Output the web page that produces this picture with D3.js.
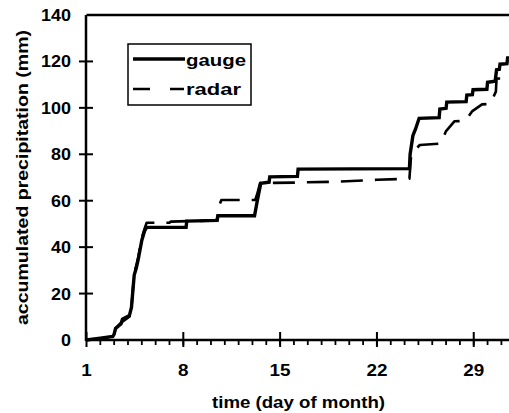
<!DOCTYPE html>
<html>
<head>
<meta charset="utf-8">
<script src="https://cdn.jsdelivr.net/npm/d3@7"></script>
<style>
  html, body { margin: 0; padding: 0; background: #fff; }
  svg { display: block; }
  text { font-family: "Liberation Sans", Arial, Helvetica, sans-serif; font-weight: bold; fill: #000; }
</style>
</head>
<body>
<script>
// Accumulated precipitation over one month, gauge vs. radar ([day of month, mm])
const gauge = [
  [1.0, 0], [2.0, 0.8], [2.9, 1.5], [3.0, 2.5], [3.1, 5], [3.5, 7], [3.6, 9], [4.1, 10.5],
  [4.25, 14], [4.45, 28], [4.6, 31], [4.75, 35], [5.0, 43], [5.2, 47], [5.35, 48.5],
  [8.2, 48.5], [8.25, 51.2], [10.45, 51.5], [10.5, 53.5], [13.15, 53.5], [13.35, 60],
  [13.6, 67.5], [14.2, 68], [14.25, 70.3], [16.25, 70.5], [16.3, 73.6], [24.35, 73.8],
  [24.4, 80], [24.6, 88], [24.8, 91], [25.05, 95.5], [26.5, 95.8], [26.55, 99.5],
  [27.0, 99.8], [27.05, 102.5], [28.45, 102.7], [28.5, 105.5], [28.9, 105.7],
  [28.95, 107.8], [29.95, 108], [30.0, 111], [30.55, 111.5], [30.65, 116.4],
  [30.85, 116.6], [30.9, 118.8], [31.4, 119], [31.45, 121.5], [31.8, 121.6]
];
const radar = [
  [1.0, 0], [2.0, 0.5], [2.9, 1], [3.0, 2], [3.1, 5], [3.5, 7.5], [4.1, 10],
  [4.25, 14], [4.45, 29], [4.6, 32], [4.75, 36], [5.0, 44], [5.2, 48], [5.35, 50.5],
  [7.0, 50.5], [7.1, 51], [10.4, 51.5], [10.5, 54], [10.6, 58], [10.75, 60.3],
  [13.2, 60.3], [13.35, 63], [13.55, 67.6], [16.0, 67.8], [19.0, 68.2], [22.0, 69],
  [24.35, 69.5], [24.45, 78], [24.6, 81], [25.1, 84], [26.6, 84.6], [27.0, 90],
  [27.6, 94.2], [28.4, 94.4], [28.9, 98.6], [29.6, 101.5], [30.2, 101.7],
  [30.6, 107], [30.65, 112.6], [31.8, 112.7]
];
const xTicks = [1, 8, 15, 22, 29];
const yTicks = [0, 20, 40, 60, 80, 100, 120, 140];
const seriesNames = ["gauge", "radar"];
const xTitle = "time (day of month)";
const yTitle = "accumulated precipitation (mm)";

const W = 509, H = 413;
const svg = d3.select("body").append("svg").attr("width", W).attr("height", H);

const x = d3.scaleLinear().domain([1, 32]).range([86.5, 86.5 + 31 * 13.83]);
const y = d3.scaleLinear().domain([0, 140]).range([340, 15]);

// frame top edge
svg.append("line")
  .attr("x1", x(1)).attr("x2", x(32)).attr("y1", y(140)).attr("y2", y(140))
  .attr("stroke", "#000").attr("stroke-width", 2.5);

// series
const line = d3.line().x(d => x(d[0])).y(d => y(d[1]));
svg.append("path").datum(radar).attr("d", line)
  .attr("fill", "none").attr("stroke", "#000").attr("stroke-width", 2.6)
  .attr("stroke-dasharray", "22,12").attr("stroke-linejoin", "round");
svg.append("path").datum(gauge).attr("d", line)
  .attr("fill", "none").attr("stroke", "#000").attr("stroke-width", 3.4)
  .attr("stroke-linejoin", "miter");

// x axis: day ticks below, major weekly ticks across the line
const xAxis = svg.append("g");
xAxis.append("line")
  .attr("x1", x(1)).attr("x2", x(32)).attr("y1", y(0)).attr("y2", y(0))
  .attr("stroke", "#000").attr("stroke-width", 2.5);
xAxis.selectAll(".minor").data(d3.range(2, 32)).join("line")
  .attr("x1", d => x(d)).attr("x2", d => x(d))
  .attr("y1", y(0)).attr("y2", y(0) + 5)
  .attr("stroke", "#000").attr("stroke-width", 1.8);
xAxis.selectAll(".major").data(xTicks).join("line")
  .attr("x1", d => x(d)).attr("x2", d => x(d))
  .attr("y1", y(0) - 8).attr("y2", y(0) + 7)
  .attr("stroke", "#000").attr("stroke-width", 2);
xAxis.selectAll("text").data(xTicks).join("text")
  .attr("x", d => x(d)).attr("y", 376)
  .attr("text-anchor", "middle").attr("font-size", 17)
  .attr("textLength", d => String(d).length * 10.5)
  .attr("lengthAdjust", "spacingAndGlyphs")
  .text(d => d);

// y axis
const yAxis = svg.append("g");
yAxis.append("line")
  .attr("x1", 86).attr("x2", 86).attr("y1", y(0) + 1).attr("y2", y(140))
  .attr("stroke", "#000").attr("stroke-width", 2.5);
yAxis.selectAll(".tick").data(yTicks.slice(1, -1)).join("line")
  .attr("x1", 79).attr("x2", 93).attr("y1", d => y(d)).attr("y2", d => y(d))
  .attr("stroke", "#000").attr("stroke-width", 2);
yAxis.selectAll("text").data(yTicks).join("text")
  .attr("x", 71).attr("y", d => y(d) + 6)
  .attr("text-anchor", "end").attr("font-size", 17)
  .attr("textLength", d => String(d).length * 10)
  .attr("lengthAdjust", "spacingAndGlyphs")
  .text(d => d);

// axis titles
svg.append("text")
  .attr("x", 298.5).attr("y", 408).attr("text-anchor", "middle")
  .attr("font-size", 17).attr("textLength", 173).attr("lengthAdjust", "spacingAndGlyphs")
  .text(xTitle);
svg.append("text")
  .attr("transform", "translate(28,177.5) rotate(-90)")
  .attr("text-anchor", "middle").attr("font-size", 17)
  .attr("textLength", 295).attr("lengthAdjust", "spacingAndGlyphs")
  .text(yTitle);

// legend
const lg = svg.append("g");
lg.append("rect").attr("x", 128).attr("y", 44).attr("width", 123).attr("height", 61)
  .attr("fill", "#fff").attr("stroke", "#000").attr("stroke-width", 1.5);
lg.append("line").attr("x1", 133).attr("x2", 185).attr("y1", 59).attr("y2", 59)
  .attr("stroke", "#000").attr("stroke-width", 3.4);
lg.append("line").attr("x1", 133).attr("x2", 184).attr("y1", 89).attr("y2", 89)
  .attr("stroke", "#000").attr("stroke-width", 2.6).attr("stroke-dasharray", "17,20");
lg.selectAll("text").data(seriesNames).join("text")
  .attr("x", 186).attr("y", (d, i) => 66 + i * 29)
  .attr("font-size", 17)
  .attr("textLength", (d, i) => i === 0 ? 60 : 55)
  .attr("lengthAdjust", "spacingAndGlyphs")
  .text(d => d);
</script>
</body>
</html>
